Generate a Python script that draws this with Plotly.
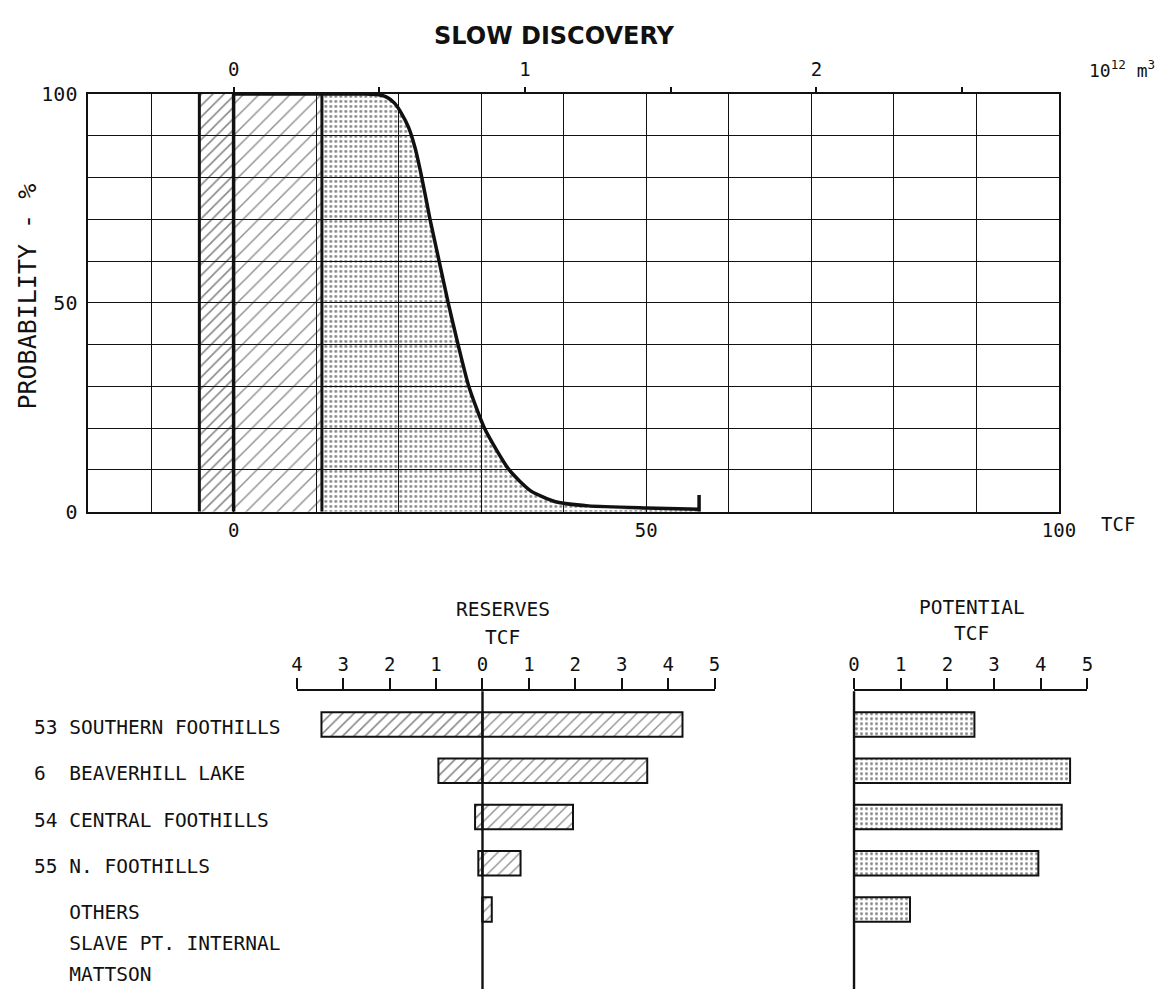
import plotly.graph_objects as go

W, H = 1172, 1001

# ---------------- data ----------------
# cumulative probability curve, TCF vs probability %
curve_tcf = [0, 10, 16, 17.6, 18.6, 19.5, 20.3, 21.2, 22.0, 22.8, 23.8, 24.9, 26.0, 27.2,
             28.5, 30.4, 33.4, 36.0, 39.0, 43.0, 50.0, 56.4]
curve_prob = [100, 100, 100, 99.8, 99.2, 97.8, 95.5, 92.0, 87.0, 80, 70, 60, 50, 40,
              30, 20, 10, 5.0, 2.4, 1.4, 0.9, 0.6]
curve_end_tick = [0, 4]          # probability span of end marker

produced_total = -4.15           # TCF, left hatched band
reserves_total = 10.7            # TCF, right edge of dashed-hatch band

x_ticks_tcf = [0, 50, 100]
y_ticks_prob = [0, 50, 100]
m3_ticks = [0, 0.5, 1, 1.5, 2, 2.5]
m3_labels = ["0", "", "1", "", "2", ""]
TCF_PER_1E12_M3 = 35.31

field_numbers = ["53", "6", "54", "55", "", "", ""]
field_names = ["SOUTHERN FOOTHILLS", "BEAVERHILL LAKE", "CENTRAL FOOTHILLS",
               "N. FOOTHILLS", "OTHERS", "SLAVE PT. INTERNAL", "MATTSON"]

reserves_produced = [-3.47, -0.95, -0.16, -0.09, 0.0]
reserves_remaining = [4.31, 3.55, 1.95, 0.82, 0.20]
potential = [2.58, 4.63, 4.45, 3.95, 1.20]

reserves_ticks = [-4, -3, -2, -1, 0, 1, 2, 3, 4, 5]
potential_ticks = [0, 1, 2, 3, 4, 5]

# ---------------- helpers ----------------
def px(x):
    return x / W

def py(y):
    return 1 - y / H

MONO = "DejaVu Sans Mono"
BLK = "#111111"
NB = "\u00a0"
CLEAR = "rgba(0,0,0,0)"

fig = go.Figure()

# ---------------- top chart ----------------
# produced band (solid hatch)
fig.add_trace(go.Scatter(
    x=[produced_total, 0, 0, produced_total, produced_total],
    y=[0, 0, 100, 100, 0], mode="lines", fill="toself",
    fillcolor=CLEAR, line=dict(width=0),
    fillpattern=dict(shape="/", fgcolor=BLK, bgcolor=CLEAR, size=8, solidity=0.2),
    hoverinfo="skip", showlegend=False, xaxis="x", yaxis="y"))
# remaining reserves band (lighter hatch)
fig.add_trace(go.Scatter(
    x=[0, reserves_total, reserves_total, 0, 0],
    y=[0, 0, 100, 100, 0], mode="lines", fill="toself",
    fillcolor=CLEAR, line=dict(width=0),
    fillpattern=dict(shape="/", fgcolor="#222222", bgcolor=CLEAR, size=11, solidity=0.13),
    hoverinfo="skip", showlegend=False, xaxis="x", yaxis="y"))
# potential (dotted area under curve)
pot_x = [reserves_total] + [t for t in curve_tcf if t > reserves_total]
pot_y = [100] + [p for t, p in zip(curve_tcf, curve_prob) if t > reserves_total]
fig.add_trace(go.Scatter(
    x=pot_x, y=pot_y, mode="lines", fill="tozeroy",
    fillcolor=CLEAR, line=dict(width=0, shape="spline", smoothing=0.6),
    fillpattern=dict(shape=".", fgcolor=BLK, bgcolor=CLEAR, size=5, solidity=0.28),
    hoverinfo="skip", showlegend=False, xaxis="x", yaxis="y"))
# thick band boundaries
for xb, wd in [(produced_total, 3), (0, 3.5), (reserves_total, 3)]:
    fig.add_trace(go.Scatter(x=[xb, xb], y=[0, 100], mode="lines",
                             line=dict(color=BLK, width=wd), hoverinfo="skip",
                             showlegend=False, xaxis="x", yaxis="y"))
# the probability curve
fig.add_trace(go.Scatter(x=curve_tcf, y=curve_prob, mode="lines",
                         line=dict(color=BLK, width=3.5, shape="spline", smoothing=0.6),
                         hoverinfo="skip", showlegend=False, xaxis="x", yaxis="y"))
# end marker
fig.add_trace(go.Scatter(x=[curve_tcf[-1], curve_tcf[-1]], y=curve_end_tick, mode="lines",
                         line=dict(color=BLK, width=3.5), hoverinfo="skip",
                         showlegend=False, xaxis="x", yaxis="y"))
# dummy trace to activate the top (10^12 m3) axis
fig.add_trace(go.Scatter(x=[0], y=[0], mode="markers", marker=dict(opacity=0),
                         hoverinfo="skip", showlegend=False, xaxis="x2", yaxis="y"))

# ---------------- bottom charts ----------------
rows = list(range(len(potential)))
bar_w = 0.53
fig.add_trace(go.Bar(
    y=rows, x=reserves_produced, orientation="h", width=bar_w,
    marker=dict(color="white", line=dict(color=BLK, width=2),
                pattern=dict(shape="/", fgcolor=BLK, size=8, solidity=0.2)),
    hoverinfo="skip", showlegend=False, xaxis="x3", yaxis="y3"))
fig.add_trace(go.Bar(
    y=rows, x=reserves_remaining, orientation="h", width=bar_w,
    marker=dict(color="white", line=dict(color=BLK, width=2),
                pattern=dict(shape="/", fgcolor="#222222", size=8, solidity=0.17)),
    hoverinfo="skip", showlegend=False, xaxis="x3", yaxis="y3"))
fig.add_trace(go.Bar(
    y=rows, x=potential, orientation="h", width=bar_w,
    marker=dict(color="white", line=dict(color=BLK, width=2),
                pattern=dict(shape=".", fgcolor=BLK, size=5, solidity=0.28)),
    hoverinfo="skip", showlegend=False, xaxis="x4", yaxis="y3"))

# ---------------- layout ----------------
x_lo = -17.6
x_hi = 100
grid_vals_x = list(range(-10, 101, 10))
grid_text_x = [str(v) if v in x_ticks_tcf else "" for v in grid_vals_x]
grid_vals_y = list(range(0, 101, 10))
grid_text_y = [str(v) if v in y_ticks_prob else "" for v in grid_vals_y]

axis_font = dict(family=MONO, size=19, color=BLK)
pot_domain = [px(865), px(1103)]

fig.update_layout(
    width=W, height=H, autosize=False,
    margin=dict(l=0, r=0, t=0, b=0, pad=0),
    paper_bgcolor="white", plot_bgcolor=CLEAR,
    barmode="relative", showlegend=False,
    xaxis=dict(domain=[px(84), px(1074)], range=[x_lo, x_hi], anchor="y",
               tickmode="array", tickvals=grid_vals_x, ticktext=grid_text_x,
               ticks="", showgrid=True, gridcolor=BLK, gridwidth=1.3,
               showline=True, mirror=True, linecolor=BLK, linewidth=1.8,
               zeroline=False, tickfont=axis_font, ticklabelstandoff=1),
    xaxis2=dict(overlaying="x", side="top", anchor="y",
                range=[x_lo / TCF_PER_1E12_M3, x_hi / TCF_PER_1E12_M3],
                tickmode="array", tickvals=m3_ticks, ticktext=m3_labels,
                ticks="outside", ticklen=6, tickwidth=2, tickcolor=BLK,
                showgrid=False, showline=False, zeroline=False,
                tickfont=axis_font, ticklabelstandoff=3),
    yaxis=dict(domain=[py(512), py(84)], range=[0, 100], anchor="x",
               tickmode="array", tickvals=grid_vals_y, ticktext=grid_text_y,
               ticks="", showgrid=True, gridcolor=BLK, gridwidth=1.3,
               showline=True, mirror=True, linecolor=BLK, linewidth=1.8,
               zeroline=False, tickfont=dict(family=MONO, size=20, color=BLK),
               ticklabelstandoff=5),
    xaxis3=dict(domain=[px(296.7), px(722.7)], range=[-4, 5], anchor="y3", side="top",
                tickmode="array", tickvals=reserves_ticks,
                ticktext=[str(abs(v)) for v in reserves_ticks],
                ticks="outside", ticklen=11, tickwidth=2, tickcolor=BLK,
                showline=True, linecolor=BLK, linewidth=2, showgrid=False,
                zeroline=False, tickfont=dict(family=MONO, size=19, color=BLK)),
    xaxis4=dict(domain=pot_domain, range=[0, 5], anchor="y3", side="top",
                tickmode="array", tickvals=potential_ticks,
                ticktext=[str(v) for v in potential_ticks],
                ticks="outside", ticklen=11, tickwidth=2, tickcolor=BLK,
                showline=True, linecolor=BLK, linewidth=2, showgrid=False,
                zeroline=False, tickfont=dict(family=MONO, size=19, color=BLK)),
    yaxis3=dict(domain=[0, py(696)], range=[5.717, -0.717], anchor="x3",
                visible=False),
)

# zero reference lines of the bar charts
fig.add_shape(type="line", xref="x3", yref="paper", x0=0, x1=0, y0=0, y1=py(696),
              line=dict(color=BLK, width=2.4), layer="above")
# potential axis origin sits on the subplot edge -> draw in paper coords (no clipping)
fig.add_shape(type="line", xref="paper", yref="paper", x0=pot_domain[0], x1=pot_domain[0],
              y0=0, y1=py(696), line=dict(color=BLK, width=2.4), layer="above")

def note(text, x, y, size, family=MONO, xanchor="center", **kw):
    return dict(text=text, x=x, y=y, xref=kw.pop("xref", "paper"), yref=kw.pop("yref", "paper"),
                xanchor=xanchor, yanchor="middle", showarrow=False,
                font=dict(family=family, size=size, color=BLK), **kw)

ann = []
ann.append(note("<b>SLOW DISCOVERY</b>", px(559), py(25), 24, family="DejaVu Sans"))
ann.append(note("PROBABILITY - %", px(22), py(292), 25, textangle=-90))
ann.append(note("10<sup>12</sup> m<sup>3</sup>", px(1103), py(58), 18, xanchor="left"))
ann.append(note("TCF", px(1115), py(525), 19, xanchor="left"))
for txt, xc, yc in [("RESERVES", 506.7, 612), ("TCF", 506.7, 641),
                    ("POTENTIAL", 985, 610), ("TCF", 985, 637)]:
    ann.append(note(txt, px(xc), py(yc), 19.5))

# category labels
n_bars = len(potential)
line_step = 0.665
for i, (num, name) in enumerate(zip(field_numbers, field_names)):
    yv = i if i < n_bars else (n_bars - 1) + (i - n_bars + 1) * line_step
    label = num.ljust(3).replace(" ", NB) + name.replace(" ", NB)
    ann.append(note(label, px(27), yv, 19.5, xanchor="left", yref="y3", yshift=-3))

fig.update_layout(annotations=ann)

fig.write_html("out.html",
               post_script="document.body.style.margin='0';document.body.style.overflow='hidden';")
